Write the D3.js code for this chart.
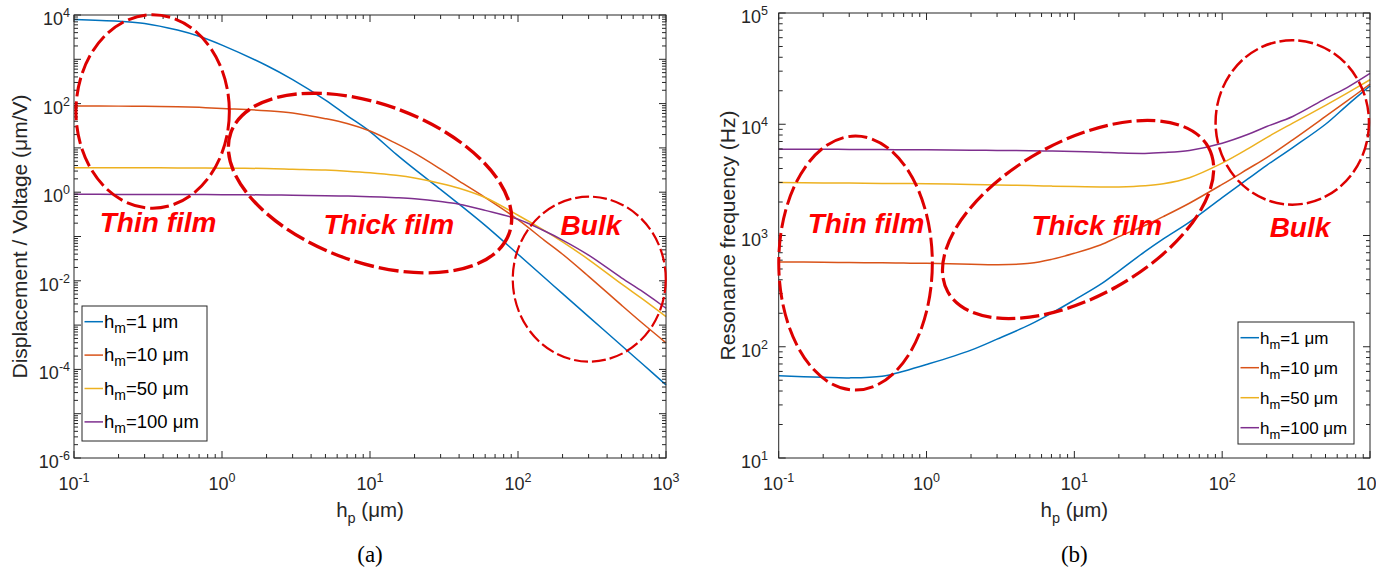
<!DOCTYPE html>
<html><head><meta charset="utf-8">
<script src="https://cdn.jsdelivr.net/npm/d3@7"></script>
<style>body{margin:0;background:#fff}svg{display:block}</style>
</head><body>
<svg id="chart" width="1399" height="574"></svg>
<script>
// ---------------- DATA ----------------
const hp = [0.1,0.2,0.3,0.5,0.7,1,2,3,5,7,10,15,20,30,40,60,100,150,200,300,500,700,1000];
const hmLabels = ["1","10","50","100"];

// (a) Displacement / Voltage (um/V)
const dispHm1   = [7940,7240,6460,4570,3310,2090,724,347,120,53.7,23.4,7.24,3.31,1.15,0.537,0.178,0.0398,0.0120,0.00513,0.00155,3.47e-4,1.29e-4,4.47e-5];
const dispHm10  = [88.3,87.7,87.1,85.1,82.2,77.6,69.2,61.7,45.7,35.5,24.0,12.6,7.59,3.31,1.78,0.759,0.240,0.0832,0.0398,0.0126,0.00282,0.00107,3.98e-4];
const dispHm50  = [3.57,3.56,3.56,3.54,3.52,3.49,3.43,3.31,3.16,2.99,2.75,2.40,2.09,1.58,1.23,0.759,0.302,0.138,0.0759,0.0302,0.00851,0.0038,0.00155];
const dispHm100 = [0.895,0.893,0.891,0.887,0.883,0.879,0.867,0.855,0.836,0.817,0.794,0.750,0.708,0.617,0.537,0.389,0.245,0.135,0.0832,0.0380,0.0117,0.00562,0.0024];

// (b) Resonance frequency (Hz)
const freqHm1   = [55.0,53.1,52.5,54.3,60.3,69.2,93.3,117,158,200,263,363,479,716,933,1320,2190,3240,4270,6170,10000,14800,22100];
const freqHm10  = [578,575,571,568,565,562,552,547,562,610,692,822,977,1230,1480,1950,2880,3980,5010,7240,11750,16220,22910];
const freqHm50  = [2990,2970,2960,2940,2930,2920,2880,2850,2810,2780,2750,2730,2735,2800,2920,3310,4470,6030,7590,10230,14790,19050,25120];
const freqHm100 = [5970,5960,5940,5920,5900,5890,5850,5820,5780,5750,5690,5600,5520,5470,5560,5820,6760,8130,9550,11750,16980,21380,28640];

const xTickExps    = [-1,0,1,2,3];
const dispTickExps = [-6,-4,-2,0,2,4];
const freqTickExps = [1,2,3,4,5];

// region annotations (data coordinates of centres)
const dispRegions = [
  {name:"Thin film",  cx:0.34, cy:66.4,   tx:0.37, ty:0.126},
  {name:"Thick film", cx:10,   cy:1.61,   tx:13.4, ty:0.114},
  {name:"Bulk",       cx:303,  cy:0.0109, tx:311,  ty:0.108}
];
const freqRegions = [
  {name:"Thin film",  cx:0.331, cy:565,   tx:0.39, ty:1064},
  {name:"Thick film", cx:10.6,  cy:1393,  tx:14.2, ty:1014},
  {name:"Bulk",       cx:298,   cy:10380, tx:336,  ty:979}
];

// ---------------- STYLE / LAYOUT ----------------
const colors = ["#0072BD","#D95319","#EDB120","#7E2F8E"];
const axisCol = "#262626";
const sans = "'Liberation Sans', Arial, Helvetica, sans-serif";
const svg = d3.select("#chart");
svg.append("rect").attr("width",1399).attr("height",574).attr("fill","#fff");

const panels = [
  {id:"a", L:74, R:666, T:15, B:458, ydom:[1e-6,1e4], yExps:dispTickExps,
   series:[dispHm1,dispHm10,dispHm50,dispHm100], ylabel:"Displacement / Voltage (μm/V)",
   ylabX:27, yTickEnd:70, caption:"(a)", regions:dispRegions,
   ell:[{rx:76.7,ry:96.7,rot:0,w:3,dash:"19,5"},{rx:148,ry:79,rot:20,w:3.4,dash:"20,5"},{rx:76.5,ry:82.5,rot:0,w:2.2,dash:"14,4"}],
   legend:{x:82,y:306,w:125,h:135,row0:321.7,dy:33.4,fs:18.5,sub:14}},
  {id:"b", L:778.7, R:1370, T:13, B:458, ydom:[10,1e5], yExps:freqTickExps,
   series:[freqHm1,freqHm10,freqHm50,freqHm100], ylabel:"Resonance frequency (Hz)",
   ylabX:735, yTickEnd:768, caption:"(b)", regions:freqRegions,
   ell:[{rx:76.8,ry:127,rot:0,w:3,dash:"19,5"},{rx:149,ry:77.5,rot:-29,w:3.2,dash:"19,5"},{rx:76.7,ry:82.2,rot:0,w:2.5,dash:"15,4"}],
   legend:{x:1238,y:322,w:116,h:122,row0:337.7,dy:30,fs:17,sub:13}}
];

svg.append("defs").append("clipPath").attr("id","cutRight")
  .append("rect").attr("x",0).attr("y",0).attr("width",1376).attr("height",574);

function powLabel(g, x, y, exp, anchor){
  const t = g.append("text").attr("x",x).attr("y",y).attr("text-anchor",anchor)
    .attr("font-family",sans).attr("font-size",18).attr("fill",axisCol);
  t.append("tspan").text("10");
  t.append("tspan").attr("dy",-8).attr("font-size",12.5).text(String(exp));
  return t;
}

panels.forEach(p => {
  const x = d3.scaleLog().domain([0.1,1000]).range([p.L,p.R]);
  const y = d3.scaleLog().domain(p.ydom).range([p.B,p.T]);
  const g = svg.append("g");

  // curves
  const line = d3.line().x(d=>x(d[0])).y(d=>y(d[1])).curve(d3.curveCatmullRom.alpha(0.5));
  p.series.forEach((s,i)=>{
    g.append("path").datum(hp.map((h,j)=>[h,s[j]]))
      .attr("d",line).attr("fill","none").attr("stroke",colors[i]).attr("stroke-width",1.5);
  });

  // frame
  g.append("rect").attr("x",p.L).attr("y",p.T).attr("width",p.R-p.L).attr("height",p.B-p.T)
    .attr("fill","none").attr("stroke",axisCol).attr("stroke-width",1);

  // ticks
  const tk = g.append("g").attr("stroke",axisCol).attr("stroke-width",1);
  function logTicks(dom){
    const out=[]; const e0=Math.round(Math.log10(dom[0])), e1=Math.round(Math.log10(dom[1]));
    for(let e=e0;e<=e1;e++){ for(let k=1;k<=9;k++){ const v=k*Math.pow(10,e); if(v<=dom[1]*1.0001) out.push({v,major:k===1}); } }
    return out;
  }
  logTicks(x.domain()).forEach(t=>{
    const px=x(t.v), len=t.major?7:4;
    tk.append("line").attr("x1",px).attr("x2",px).attr("y1",p.B).attr("y2",p.B-len);
    tk.append("line").attr("x1",px).attr("x2",px).attr("y1",p.T).attr("y2",p.T+len);
  });
  logTicks(y.domain()).forEach(t=>{
    const py=y(t.v), len=t.major?7:4;
    tk.append("line").attr("x1",p.L).attr("x2",p.L+len).attr("y1",py).attr("y2",py);
    tk.append("line").attr("x1",p.R).attr("x2",p.R-len).attr("y1",py).attr("y2",py);
  });

  // tick labels
  const xl = g.append("g");
  if(p.id==="b") xl.attr("clip-path","url(#cutRight)");
  xTickExps.forEach(e=>powLabel(xl, x(Math.pow(10,e)), p.B+32, e, "middle"));
  p.yExps.forEach(e=>powLabel(g, p.yTickEnd, y(Math.pow(10,e))+10, e, "end"));

  // axis labels
  const cx=(p.L+p.R)/2;
  const xt = g.append("text").attr("x",cx).attr("y",517).attr("text-anchor","middle")
    .attr("font-family",sans).attr("font-size",20.5).attr("fill",axisCol);
  xt.append("tspan").text("h");
  xt.append("tspan").attr("dy",6).attr("font-size",14.5).text("p");
  xt.append("tspan").attr("dy",-6).text(" (μm)");

  const cy=(p.T+p.B)/2;
  g.append("text").attr("transform",`translate(${p.ylabX},${cy}) rotate(-90)`)
    .attr("text-anchor","middle").attr("font-family",sans).attr("font-size",21)
    .attr("fill",axisCol).text(p.ylabel);

  // caption
  g.append("text").attr("x",cx).attr("y",562).attr("text-anchor","middle")
    .attr("font-family","'Liberation Serif','Times New Roman',serif").attr("font-size",23)
    .attr("fill","#000").text(p.caption);

  // legend
  const lg = p.legend;
  const leg = g.append("g");
  leg.append("rect").attr("x",lg.x).attr("y",lg.y).attr("width",lg.w).attr("height",lg.h)
    .attr("fill","#fff").attr("stroke",axisCol).attr("stroke-width",1);
  hmLabels.forEach((lab,i)=>{
    const ry = lg.row0 + i*lg.dy;
    leg.append("line").attr("x1",lg.x+2.5).attr("x2",lg.x+21).attr("y1",ry).attr("y2",ry)
      .attr("stroke",colors[i]).attr("stroke-width",1.5);
    const t = leg.append("text").attr("x",lg.x+22).attr("y",ry+6)
      .attr("font-family",sans).attr("font-size",lg.fs).attr("fill","#000");
    t.append("tspan").text("h");
    t.append("tspan").attr("dy",5).attr("font-size",lg.sub).text("m");
    t.append("tspan").attr("dy",-5).text("=" + lab + " μm");
  });

  // region annotations
  p.regions.forEach((r,i)=>{
    const e = p.ell[i];
    const ex=x(r.cx), ey=y(r.cy);
    g.append("ellipse").attr("cx",0).attr("cy",0).attr("rx",e.rx).attr("ry",e.ry)
      .attr("transform",`translate(${ex},${ey}) rotate(${e.rot})`)
      .attr("fill","none").attr("stroke","#DD0000").attr("stroke-width",e.w)
      .attr("stroke-dasharray",e.dash);
    g.append("text").attr("x",x(r.tx)).attr("y",y(r.ty)).attr("text-anchor","middle")
      .attr("font-family",sans).attr("font-size",28).attr("font-weight","bold")
      .attr("font-style","italic").attr("fill","#FF0000").text(r.name);
  });
});
</script>
</body></html>
